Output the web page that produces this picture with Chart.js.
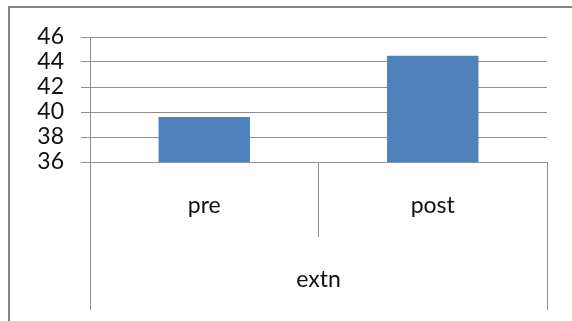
<!DOCTYPE html>
<html>
<head>
<meta charset="utf-8">
<script src="https://cdn.jsdelivr.net/npm/chart.js@4/dist/chart.umd.min.js"></script>
<style>
  html, body { margin: 0; padding: 0; background: #fff; overflow: hidden; }
  #wrap { position: relative; width: 572px; height: 321px; overflow: hidden; }
  #frame { position: absolute; left: 8px; top: 6px; width: 700px; height: 500px; border: 2px solid #858585; box-sizing: border-box; }
  #c { position: absolute; left: 0; top: 0; }
</style>
</head>
<body>
<div id="wrap">
  <div id="frame"></div>
  <canvas id="c" width="572" height="321"></canvas>
</div>
<script>
// Data
const categories = ["pre", "post"];
const groupLabels = ["extn"];
const values = [39.6, 44.5];
const yTicks = [36, 38, 40, 42, 44, 46];

const gridColor = '#8f8f8f';
const textColor = '#111';
const font = { family: 'Lato, "Liberation Sans", sans-serif', size: 23 };

new Chart(document.getElementById('c'), {
  type: 'bar',
  data: {
    labels: categories,
    datasets: [{
      data: values,
      backgroundColor: '#4f81bd',
      borderWidth: 0,
      barPercentage: 0.4,
      categoryPercentage: 1.0,
      xAxisID: 'x',
      yAxisID: 'y'
    }]
  },
  options: {
    responsive: false,
    animation: false,
    events: [],
    layout: { padding: { top: 37, right: 25, bottom: 11, left: 0 } },
    plugins: { legend: { display: false }, tooltip: { enabled: false } },
    scales: {
      y: {
        min: yTicks[0],
        max: yTicks[yTicks.length - 1],
        afterBuildTicks: (s) => { s.ticks = yTicks.map(v => ({ value: v })); },
        afterFit: (s) => { s.width = 90; },
        ticks: { font: font, color: textColor, padding: 17, autoSkip: false },
        grid: { color: gridColor, lineWidth: 1, tickLength: 9, drawTicks: true },
        border: { display: true, color: gridColor, width: 1 }
      },
      x: {
        type: 'category',
        position: 'bottom',
        weight: 0,
        afterFit: (s) => { s.height = 75; },
        ticks: { font: font, color: textColor, padding: -45, maxRotation: 0, autoSkip: false },
        grid: { offset: true, drawOnChartArea: false, color: gridColor, lineWidth: 1, tickLength: 75 },
        border: { display: true, color: gridColor, width: 1 }
      },
      x2: {
        type: 'category',
        labels: groupLabels,
        position: 'bottom',
        weight: 1,
        afterFit: (s) => { s.height = 73; },
        ticks: { font: font, color: textColor, padding: -44, maxRotation: 0, autoSkip: false },
        grid: { offset: true, drawOnChartArea: false, color: gridColor, lineWidth: 1, tickLength: 73 },
        border: { display: false }
      }
    }
  }
});
</script>
</body>
</html>
